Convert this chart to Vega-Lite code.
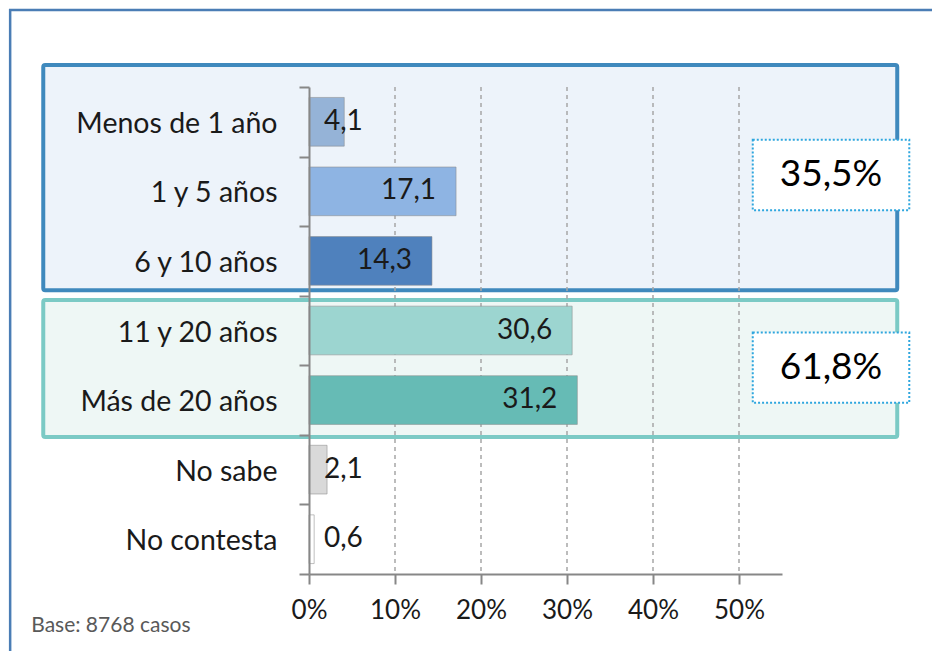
{
  "$schema": "https://vega.github.io/schema/vega-lite/v6.json",
  "width": 473,
  "height": 487,
  "autosize": {"type": "none"},
  "padding": {"left": 309, "top": 87, "right": 150, "bottom": 77},
  "background": "white",
  "config": {
    "locale": {"number": {"decimal": ",", "thousands": ".", "grouping": [3], "currency": ["", " €"]}},
    "view": {"stroke": null},
    "axisX": {
      "domainColor": "#878787",
      "domainWidth": 2,
      "tickColor": "#878787",
      "tickWidth": 2,
      "tickSize": 10,
      "grid": false,
      "labelFont": "Lato",
      "labelFontSize": 26,
      "labelColor": "#1a1a1a",
      "labelPadding": 13,
      "labelFlush": false,
      "zindex": 1
    }
  },
  "datasets": {
    "respuestas": [
      {"categoria": "Menos de 1 año", "porcentaje": 4.1},
      {"categoria": "1 y 5 años", "porcentaje": 17.1},
      {"categoria": "6 y 10 años", "porcentaje": 14.3},
      {"categoria": "11 y 20 años", "porcentaje": 30.6},
      {"categoria": "Más de 20 años", "porcentaje": 31.2},
      {"categoria": "No sabe", "porcentaje": 2.1},
      {"categoria": "No contesta", "porcentaje": 0.6}
    ],
    "grupos": [
      {"grupo": "Menos de 10 años", "total": 35.5},
      {"grupo": "Más de 10 años", "total": 61.8}
    ],
    "rejilla": [{"valor": 10}, {"valor": 20}, {"valor": 30}, {"valor": 40}, {"valor": 50}],
    "nota": [{"texto": "Base: 8768 casos"}]
  },
  "resolve": {"scale": {"y": "independent"}, "axis": {"y": "independent"}},
  "layer": [
    {
      "layer": [
        {
          "data": {"values": [{}]},
          "mark": {"type": "rect", "fill": null, "stroke": "#4A7DB5", "strokeWidth": 2.5},
          "encoding": {
            "x": {"datum": -34.75, "type": "quantitative", "scale": {"domain": [0, 55], "nice": false, "zero": true}},
            "x2": {"datum": 90},
            "y": {
              "datum": -1.107, "type": "quantitative",
              "scale": {"domain": [0, 7], "reverse": true, "nice": false, "zero": false},
              "axis": {
                "orient": "left",
                "values": [0, 1, 2, 3, 4, 5, 6, 7],
                "labels": false,
                "grid": false,
                "title": null,
                "tickSize": 10,
                "tickWidth": 2,
                "tickColor": "#878787",
                "domainColor": "#878787",
                "domainWidth": 2,
                "zindex": 1
              }
            },
            "y2": {"datum": 12}
          }
        },
        {
          "data": {"values": [{}]},
          "mark": {"type": "rect", "fill": "#EDF3FA", "stroke": "#3F89BD", "strokeWidth": 4, "cornerRadius": 2},
          "encoding": {
            "x": {"datum": -30.9, "type": "quantitative", "scale": {"domain": [0, 55], "nice": false, "zero": true}},
            "x2": {"datum": 68.4},
            "y": {"datum": -0.316, "type": "quantitative", "scale": {"domain": [0, 7], "reverse": true, "nice": false, "zero": false}},
            "y2": {"datum": 2.92}
          }
        },
        {
          "data": {"values": [{}]},
          "mark": {"type": "rect", "fill": "#EEF7F5", "stroke": "#7BCAC5", "strokeWidth": 4, "cornerRadius": 2},
          "encoding": {
            "x": {"datum": -30.9, "type": "quantitative", "scale": {"domain": [0, 55], "nice": false, "zero": true}},
            "x2": {"datum": 68.4},
            "y": {"datum": 3.06, "type": "quantitative", "scale": {"domain": [0, 7], "reverse": true, "nice": false, "zero": false}},
            "y2": {"datum": 5.03}
          }
        },
        {
          "data": {"name": "nota"},
          "mark": {"type": "text", "align": "left", "baseline": "alphabetic", "font": "Lato", "fontSize": 21, "color": "#595959"},
          "encoding": {
            "x": {"datum": -32.3, "type": "quantitative", "scale": {"domain": [0, 55], "nice": false, "zero": true}},
            "y": {"datum": 7.83, "type": "quantitative", "scale": {"domain": [0, 7], "reverse": true, "nice": false, "zero": false}},
            "text": {"field": "texto", "type": "nominal"}
          }
        }
      ]
    },
    {
      "data": {"name": "rejilla"},
      "mark": {"type": "rule", "stroke": "#A6A6A6", "strokeWidth": 1.5, "strokeDash": [4, 4]},
      "encoding": {
        "x": {"field": "valor", "type": "quantitative", "title": null, "scale": {"domain": [0, 55], "nice": false, "zero": true}}
      }
    },
    {
      "data": {"name": "respuestas"},
      "encoding": {
        "y": {
          "field": "categoria", "type": "nominal", "sort": null,
          "scale": {"paddingInner": 0.3, "paddingOuter": 0.15},
          "axis": {
            "orient": "left",
            "title": null,
            "ticks": false,
            "domain": false,
            "grid": false,
            "labelFont": "Lato",
            "labelFontSize": 28.5,
            "labelColor": "#1a1a1a",
            "labelPadding": 32,
            "labelLimit": 300,
            "labelOffset": 2,
            "zindex": 1
          }
        }
      },
      "layer": [
        {
          "mark": {"type": "bar", "stroke": "#8C8C8C", "strokeOpacity": 0.55, "strokeWidth": 1},
          "encoding": {
            "x": {
              "field": "porcentaje", "type": "quantitative", "title": null,
              "scale": {"domain": [0, 55], "nice": false, "zero": true},
              "axis": {"values": [0, 10, 20, 30, 40, 50], "labelExpr": "datum.value + '%'", "title": null}
            },
            "color": {
              "field": "categoria", "type": "nominal", "legend": null,
              "scale": {
                "domain": ["Menos de 1 año", "1 y 5 años", "6 y 10 años", "11 y 20 años", "Más de 20 años", "No sabe", "No contesta"],
                "range": ["#95B3D7", "#8EB4E3", "#4F81BD", "#9CD5D0", "#66BBB5", "#D9D9D9", "#FFFFFF"]
              }
            }
          }
        },
        {
          "transform": [{"filter": "datum.porcentaje >= 10"}],
          "mark": {"type": "text", "align": "right", "baseline": "middle", "dx": -20, "font": "Lato", "fontSize": 28, "color": "#1a1a1a"},
          "encoding": {
            "x": {"field": "porcentaje", "type": "quantitative", "title": null, "scale": {"domain": [0, 55], "nice": false, "zero": true}},
            "text": {"field": "porcentaje", "type": "quantitative", "format": ".1f"}
          }
        },
        {
          "transform": [{"filter": "datum.porcentaje < 10"}],
          "mark": {"type": "text", "align": "left", "baseline": "middle", "dx": 15, "font": "Lato", "fontSize": 28, "color": "#1a1a1a"},
          "encoding": {
            "x": {"datum": 0, "type": "quantitative", "scale": {"domain": [0, 55], "nice": false, "zero": true}},
            "text": {"field": "porcentaje", "type": "quantitative", "format": ".1f"}
          }
        }
      ]
    },
    {
      "data": {"name": "grupos"},
      "transform": [{"calculate": "format(datum.total, '.1f') + '%'", "as": "etiqueta"}],
      "layer": [
        {
          "transform": [{"filter": "datum.grupo === 'Menos de 10 años'"}],
          "mark": {"type": "rect", "fill": "white", "stroke": "#2EA6DE", "strokeWidth": 2, "strokeDash": [2, 2]},
          "encoding": {
            "x": {"datum": 51.6, "type": "quantitative", "scale": {"domain": [0, 55], "nice": false, "zero": true}},
            "x2": {"datum": 69.8},
            "y": {"datum": 0.76, "type": "quantitative", "scale": {"domain": [0, 7], "reverse": true, "nice": false, "zero": false}, "axis": null},
            "y2": {"datum": 1.77}
          }
        },
        {
          "transform": [{"filter": "datum.grupo === 'Más de 10 años'"}],
          "mark": {"type": "rect", "fill": "white", "stroke": "#2EA6DE", "strokeWidth": 2, "strokeDash": [2, 2]},
          "encoding": {
            "x": {"datum": 51.6, "type": "quantitative", "scale": {"domain": [0, 55], "nice": false, "zero": true}},
            "x2": {"datum": 69.8},
            "y": {"datum": 3.53, "type": "quantitative", "scale": {"domain": [0, 7], "reverse": true, "nice": false, "zero": false}, "axis": null},
            "y2": {"datum": 4.54}
          }
        },
        {
          "transform": [{"filter": "datum.grupo === 'Menos de 10 años'"}],
          "mark": {"type": "text", "align": "center", "baseline": "middle", "font": "Lato", "fontSize": 37, "color": "#000000"},
          "encoding": {
            "x": {"datum": 60.7, "type": "quantitative", "scale": {"domain": [0, 55], "nice": false, "zero": true}},
            "y": {"datum": 1.265, "type": "quantitative", "scale": {"domain": [0, 7], "reverse": true, "nice": false, "zero": false}, "axis": null},
            "text": {"field": "etiqueta", "type": "nominal"}
          }
        },
        {
          "transform": [{"filter": "datum.grupo === 'Más de 10 años'"}],
          "mark": {"type": "text", "align": "center", "baseline": "middle", "font": "Lato", "fontSize": 37, "color": "#000000"},
          "encoding": {
            "x": {"datum": 60.7, "type": "quantitative", "scale": {"domain": [0, 55], "nice": false, "zero": true}},
            "y": {"datum": 4.035, "type": "quantitative", "scale": {"domain": [0, 7], "reverse": true, "nice": false, "zero": false}, "axis": null},
            "text": {"field": "etiqueta", "type": "nominal"}
          }
        }
      ]
    }
  ]
}
